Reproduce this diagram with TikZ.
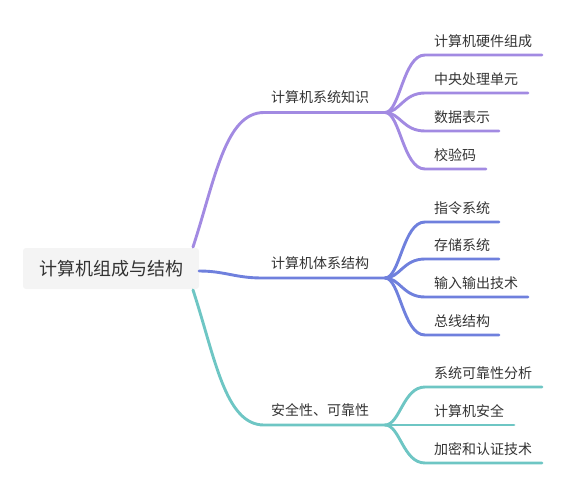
\documentclass[tikz,border=0pt]{standalone}
\usepackage{fontspec}
\setmainfont{Noto Sans CJK SC}
\begin{document}
\begin{tikzpicture}[x=1pt,y=-1pt,
  every node/.style={inner sep=0pt, text=txt},
  leaf/.style={anchor=west, font=\fontsize{14}{16}\selectfont},
  lbl/.style={anchor=west, font=\fontsize{14}{16}\selectfont},
  conn/.style={line width=2.9pt, line cap=round},
  rootbox/.style={fill=rootfill, rounded corners=3pt, minimum width=176pt, minimum height=41pt, font=\fontsize{18}{20}\selectfont}]
\definecolor{txt}{HTML}{333333}
\definecolor{rootfill}{HTML}{F4F4F4}
\definecolor{cpur}{HTML}{A28AE2}
\definecolor{cblu}{HTML}{6F80DD}
\definecolor{cteal}{HTML}{6EC6C4}
\useasboundingbox (0,0) rectangle (567,482);

% root
\node[rootbox] (root) at (111,268.5) {计算机组成与结构};

% branch labels
\node[lbl] (b1) at (271,97.5) {计算机系统知识};
\node[lbl] (b2) at (271,263.5) {计算机体系结构};
\node[lbl] (b3) at (271,410.5) {安全性、可靠性};

% leaves
\node[leaf] (l11) at (434,41) {计算机硬件组成};
\node[leaf] (l12) at (434,79) {中央处理单元};
\node[leaf] (l13) at (434,117) {数据表示};
\node[leaf] (l14) at (434,155) {校验码};
\node[leaf] (l21) at (434,208) {指令系统};
\node[leaf] (l22) at (434,245) {存储系统};
\node[leaf] (l23) at (434,283) {输入输出技术};
\node[leaf] (l24) at (434,321) {总线结构};
\node[leaf] (l31) at (434,373) {系统可靠性分析};
\node[leaf] (l32) at (434,411) {计算机安全};
\node[leaf] (l33) at (434,449) {加密和认证技术};

% coordinates
\coordinate (r1) at (193,247);
\coordinate (r2) at (199,271);
\coordinate (r3) at (193,290);
\coordinate (b1s) at (264,112.5);
\coordinate (b1e) at (385,112.5);
\coordinate (b2s) at (262,278);
\coordinate (b2e) at (385,278);
\coordinate (b3s) at (264,425);
\coordinate (b3e) at (385,425);

% branch 1
\draw[conn,cpur] (r1) .. controls (215,180) and (225,112.5) .. (b1s) -- (b1e);
\foreach \n/\y/\e in {l11/55/542, l12/93/528, l13/131/499, l14/169/486}{
  \draw[conn,cpur] (b1e) .. controls (400,112.5) and (403,\y) .. (425,\y) -- (\e,\y);
}
% branch 2
\draw[conn,cblu] (r2) .. controls (225,271) and (235,278) .. (b2s) -- (b2e);
\foreach \n/\y/\e in {l21/222/499, l22/259/499, l23/297/528, l24/335/499}{
  \draw[conn,cblu] (b2e) .. controls (400,278) and (403,\y) .. (425,\y) -- (\e,\y);
}
% branch 3
\draw[conn,cteal] (r3) .. controls (215,357) and (225,425) .. (b3s) -- (b3e);
\foreach \n/\y/\e in {l31/387/542, l32/425/514, l33/463/542}{
  \draw[conn,cteal] (b3e) .. controls (400,425) and (403,\y) .. (425,\y) -- (\e,\y);
}
\end{tikzpicture}
\end{document}
